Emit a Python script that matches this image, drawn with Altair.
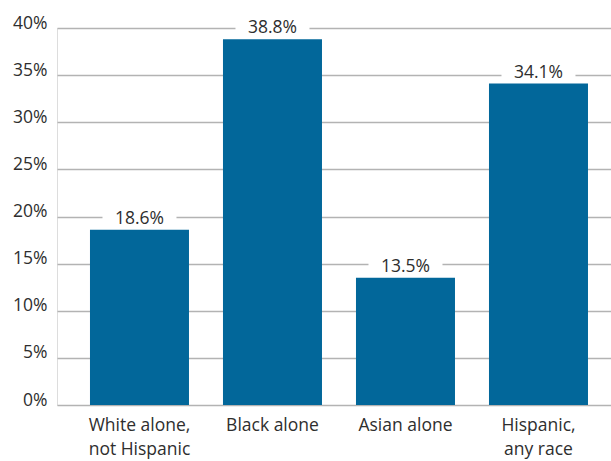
import altair as alt
import pandas as pd

categories = ["White alone,|not Hispanic", "Black alone", "Asian alone", "Hispanic,|any race"]
values = [18.6, 38.8, 13.5, 34.1]
labels = ["18.6%", "38.8%", "13.5%", "34.1%"]
ticks = [0, 5, 10, 15, 20, 25, 30, 35, 40]

df = pd.DataFrame({"cat": categories, "val": values, "lab": labels})

FONT = "Open Sans"
TXT = "#2e2e2e"

x = alt.X(
    "cat:N",
    sort=categories,
    scale=alt.Scale(paddingInner=0.2556, paddingOuter=0.2105, align=0.589),
    axis=alt.Axis(
        title=None,
        labelExpr="split(datum.label, '|')",
        labelAngle=0,
        domain=False,
        ticks=False,
        labelPadding=11,
        labelFontSize=17.5,
        labelColor=TXT,
        labelFont=FONT,
        labelLineHeight=24,
    ),
)
y = alt.Y(
    "val:Q",
    scale=alt.Scale(domain=[0, 40]),
    axis=alt.Axis(
        title=None,
        values=ticks,
        labelExpr="datum.value + '%'",
        domain=False,
        ticks=False,
        grid=True,
        gridColor="#b3b3b3",
        gridWidth=1.5,
        labelPadding=10,
        labelBaseline="alphabetic",
        labelFontSize=17.5,
        labelColor=TXT,
        labelFont=FONT,
    ),
)

base = alt.Chart(df).encode(x=x, y=y)

bars = base.mark_bar(color="#02679a")
box = base.mark_point(
    shape="M-1,-0.27L1,-0.27L1,0.27L-1,0.27Z",
    size=5476,
    filled=True,
    color="white",
    opacity=1,
    yOffset=-12,
)
text = base.mark_text(
    dy=-6, baseline="alphabetic", fontSize=17.5, font=FONT, color=TXT
).encode(text="lab:N")

chart = (
    alt.layer(bars, box, text)
    .properties(
        width=554,
        height=377,
        autosize=alt.AutoSizeParams(type="none"),
        padding={"left": 57, "top": 28, "right": 0, "bottom": 56},
    )
    .configure_view(stroke=None)
    .configure(background="white")
)

chart.save("out.html", embed_options={"renderer": "svg", "actions": False})
